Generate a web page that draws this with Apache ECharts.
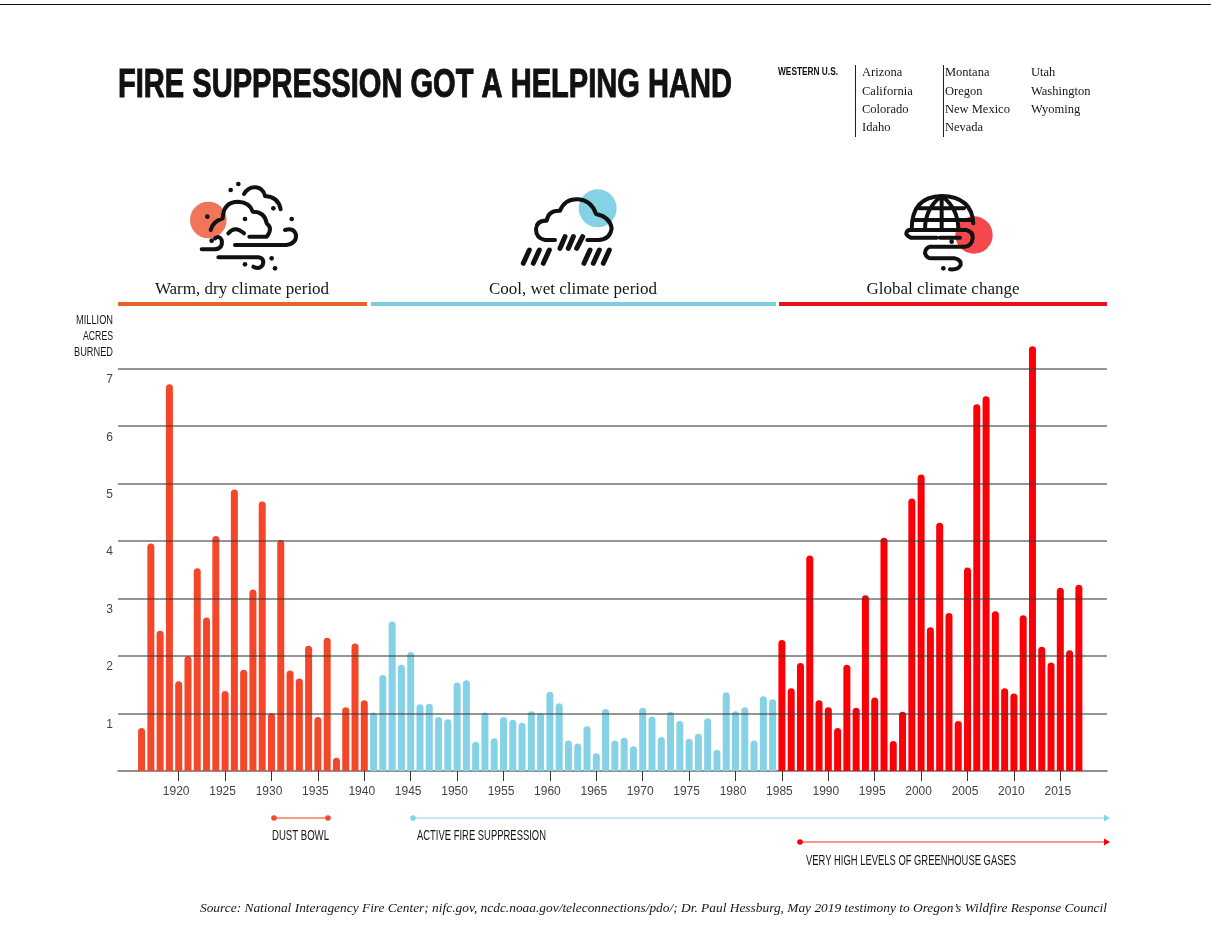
<!DOCTYPE html>
<html>
<head>
<meta charset="utf-8">
<title>Fire suppression got a helping hand</title>
<script src="https://cdn.jsdelivr.net/npm/echarts@6/dist/echarts.min.js"></script>
<style>
  html, body { margin: 0; padding: 0; background: #fff; }
  #chart { width: 1211px; height: 926px; }
</style>
</head>
<body>
<div id="chart"></div>
<script>
// million acres burned per year
var warmStart = 1916
var warmValues = [0.75, 3.96, 2.44, 6.73, 1.56, 2.0, 3.53, 2.67, 4.09, 1.39, 4.9, 1.76, 3.16, 4.69, 1.01, 4.02, 1.75, 1.61, 2.18, 0.94, 2.32, 0.23, 1.11, 2.22, 1.23]
var coolStart = 1941
var coolValues = [1.02, 1.67, 2.6, 1.85, 2.07, 1.16, 1.17, 0.94, 0.9, 1.54, 1.58, 0.51, 1.02, 0.57, 0.94, 0.89, 0.84, 1.04, 1.01, 1.38, 1.18, 0.53, 0.48, 0.78, 0.31, 1.08, 0.53, 0.58, 0.43, 1.1, 0.95, 0.59, 1.03, 0.87, 0.56, 0.65, 0.92, 0.37, 1.37, 1.04, 1.11, 0.53, 1.3, 1.25]
var changeStart = 1985
var changeValues = [2.28, 1.44, 1.88, 3.75, 1.23, 1.11, 0.75, 1.85, 1.1, 3.06, 1.28, 4.06, 0.52, 1.03, 4.74, 5.16, 2.5, 4.32, 2.75, 0.87, 3.54, 6.38, 6.52, 2.78, 1.44, 1.35, 2.71, 7.39, 2.16, 1.89, 3.19, 2.1, 3.24]
var tickYears = [1920, 1925, 1930, 1935, 1940, 1945, 1950, 1955, 1960, 1965, 1970, 1975, 1980, 1985, 1990, 1995, 2000, 2005, 2010, 2015]
var yTicks = [1, 2, 3, 4, 5, 6, 7]

var stateCols = [
  ['Arizona', 'California', 'Colorado', 'Idaho'],
  ['Montana', 'Oregon', 'New Mexico', 'Nevada'],
  ['Utah', 'Washington', 'Wyoming']
]

var SANS = '"Liberation Sans", Roboto, sans-serif'
var SERIF = '"Liberation Serif", serif'
var INK = '#14161a'
var WARM = '#f4472a'
var COOL = '#85d2e7'
var CHANGE = '#fb0006'

function toPoints(start, values) {
  return values.map(function (v, i) { return [start + i, v] })
}

function barSeries(name, start, values, color) {
  return {
    name: name,
    type: 'bar',
    data: toPoints(start, values),
    barWidth: 7,
    barGap: '-100%',
    itemStyle: { color: color, borderRadius: [3.5, 3.5, 0, 0] }
  }
}

// icon outlines, drawn in a 3x box and scaled down by their group
var icons = {
  warmIcon: 'M122 180 Q128 155 158 145 Q160 95 205 95 Q240 97 248 125 Q285 125 290 160 Q310 175 290 200 L238 200 ' +
    'M222 72 Q235 50 258 52 Q280 55 285 78 Q325 80 332 118 M175 190 Q195 165 222 190 ' +
    'M95 238 L135 238 Q160 235 155 210 Q148 195 135 205 ' +
    'M195 225 L350 225 Q380 220 378 195 Q372 172 345 180 ' +
    'M145 262 L265 262 Q285 265 278 285 Q268 300 250 290',
  coolIcon: 'M135 210 L105 210 Q78 205 78 178 Q80 150 110 152 Q115 120 150 122 Q165 85 205 88 Q245 92 258 132 Q300 140 305 175 Q300 210 265 210 L232 210',
  coolRain: 'M150 235 L165 200 M175 235 L190 200 M200 235 L218 200 ' +
    'M40 280 L58 240 M70 280 L88 240 M100 280 L118 240 ' +
    'M222 280 L240 240 M250 280 L268 240 M280 280 L298 240',
  changeIcon: 'M65 178 Q65 80 155 78 Q245 80 250 160 M155 78 L155 178 M155 78 Q105 115 105 178 M155 78 Q205 115 205 178 ' +
    'M88 115 L222 115 M70 150 L245 150 ' +
    'M140 203 L62 203 Q45 195 50 186 Q55 178 65 180 L228 180 Q250 185 248 205 Q245 228 225 230 L120 230 Q105 235 105 250 Q110 265 125 265 L195 265 Q215 270 212 285 Q205 300 180 298 ' +
    'M150 203 L210 203'
}
Object.keys(icons).forEach(function (k) {
  echarts.graphic.registerShape(k, echarts.graphic.extendPath(icons[k]))
})

function dots(list) {
  return list.map(function (p) {
    return { type: 'circle', shape: { cx: p[0], cy: p[1], r: 7 }, style: { fill: '#111' } }
  })
}

function stroke(name, width) {
  return { type: name, shape: {}, style: { fill: null, stroke: '#111', lineWidth: width, lineCap: 'round', lineJoin: 'round' } }
}

function icon(name, x, y, sun, sunColor, dotList, extra) {
  return {
    type: 'group',
    x: x, y: y, scaleX: 1 / 3, scaleY: 1 / 3,
    children: [
      { type: 'circle', shape: { cx: sun[0], cy: sun[1], r: sun[2] }, style: { fill: sunColor } },
      stroke(name, 12)
    ].concat(extra || []).concat(dots(dotList))
  }
}

function label(text, x, y, font, opts) {
  return {
    type: 'text', x: x, y: y,
    style: Object.assign({ text: text, font: font, fill: INK, textAlign: 'left', textVerticalAlign: 'middle' }, opts || {})
  }
}

// the picture's condensed face is not installed, so squeeze text to its measured width
var measureCtx = document.createElement('canvas').getContext('2d')
function narrow(text, x, y, font, width, opts) {
  measureCtx.font = font
  var el = label(text, x, y, font, opts)
  el.scaleX = width / measureCtx.measureText(text).width
  return el
}

function rect(x, y, w, h, color) {
  return { type: 'rect', shape: { x: x, y: y, width: w, height: h }, style: { fill: color } }
}

function span(x1, x2, y, color, lineColor, arrow) {
  var out = [
    { type: 'line', shape: { x1: x1, y1: y, x2: x2, y2: y }, style: { stroke: lineColor, lineWidth: 1.4 } },
    { type: 'circle', shape: { cx: x1, cy: y, r: 2.8 }, style: { fill: color } }
  ]
  if (arrow) {
    out.push({ type: 'polygon', shape: { points: [[x2 - 5, y - 3.5], [x2 + 1, y], [x2 - 5, y + 3.5]] }, style: { fill: color } })
  } else {
    out.push({ type: 'circle', shape: { cx: x2, cy: y, r: 2.8 }, style: { fill: color } })
  }
  return out
}

var furniture = [
  rect(0, 4, 1211, 1, '#111'),
  narrow('FIRE SUPPRESSION GOT A HELPING HAND', 118, 86, 'bold 41px ' + SANS, 614, { fill: '#111', stroke: '#111', lineWidth: 1 }),
  narrow('WESTERN U.S.', 778, 72, 'bold 11px ' + SANS, 60, { fill: '#111' }),
  rect(855, 65, 1, 72, '#222'),
  rect(943, 65, 1, 72, '#222'),

  icon('warmIcon', 170, 170, [115, 150, 55], '#f0755a', [[205, 42], [182, 60], [112, 140], [225, 147], [365, 147], [310, 115], [125, 212], [305, 265], [315, 295], [225, 283]]),
  icon('coolIcon', 510, 170, [263, 115, 57], COOL, [], [stroke('coolRain', 15)]),
  icon('changeIcon', 890, 170, [252, 195, 56], '#f4484c', [[185, 215], [160, 295]]),

  label('Warm, dry climate period', 242, 290, '17px ' + SERIF, { textAlign: 'center' }),
  label('Cool, wet climate period', 573, 290, '17px ' + SERIF, { textAlign: 'center' }),
  label('Global climate change', 943, 290, '17px ' + SERIF, { textAlign: 'center' }),
  rect(118, 302, 249, 4, '#e8622c'),
  rect(371, 302, 405, 4, '#7dcde3'),
  rect(779, 302, 328, 4, '#e8101a'),

  narrow('MILLION', 113, 321, '12.5px ' + SANS, 37, { textAlign: 'right' }),
  narrow('ACRES', 113, 337, '12.5px ' + SANS, 30, { textAlign: 'right' }),
  narrow('BURNED', 113, 353, '12.5px ' + SANS, 39, { textAlign: 'right' }),

  narrow('DUST BOWL', 272, 836, '14.5px ' + SANS, 57),
  narrow('ACTIVE FIRE SUPPRESSION', 417, 836, '14.5px ' + SANS, 129),
  narrow('VERY HIGH LEVELS OF GREENHOUSE GASES', 806, 861, '14.5px ' + SANS, 210),
  label('Source: National Interagency Fire Center; nifc.gov, ncdc.noaa.gov/teleconnections/pdo/; Dr. Paul Hessburg, May 2019 testimony to Oregon\u2019s Wildfire Response Council',
    1107, 908, 'italic 13.4px ' + SERIF, { textAlign: 'right' })
]
  .concat(span(274, 328, 818, WARM, '#f47a60', false))
  .concat(span(413, 1109, 818, COOL, '#b5e3ef', true))
  .concat(span(800, 1109, 842, CHANGE, '#fb7070', true))

var stateX = [862, 945, 1031]
var stateY = [73, 92, 110, 128]
stateCols.forEach(function (col, c) {
  col.forEach(function (name, r) {
    furniture.push(label(name, stateX[c], stateY[r], '12.5px ' + SERIF))
  })
})

var allSeries = [
  barSeries('Warm, dry climate period', warmStart, warmValues, WARM),
  barSeries('Cool, wet climate period', coolStart, coolValues, COOL),
  barSeries('Global climate change', changeStart, changeValues, CHANGE)
]
// grid lines run over the bars in the picture
allSeries[2].z = 3
allSeries[2].markLine = {
  silent: true,
  symbol: 'none',
  animation: false,
  z: 10,
  label: { show: false },
  lineStyle: { type: 'solid', color: 'rgba(60,60,60,0.72)', width: 1.5 },
  data: yTicks.map(function (v) { return { yAxis: v } })
}

var chart = echarts.init(document.getElementById('chart'), null, { renderer: 'canvas' })
chart.setOption({
  animation: false,
  backgroundColor: '#fff',
  grid: { left: 118, right: 104, top: 340, bottom: 155 },
  xAxis: {
    type: 'value',
    min: 1913.46,
    max: 2020.03,
    splitLine: { show: false },
    axisLine: { show: true, onZero: true, lineStyle: { color: '#6c6c6c', width: 1.5 } },
    axisTick: { show: true, length: 10, customValues: tickYears, lineStyle: { color: '#333', width: 1 } },
    axisLabel: {
      margin: 15,
      customValues: tickYears,
      formatter: function (v) { return String(v) },
      font: '12.5px Roboto',
      color: '#444',
      padding: [0, 5, 0, 0]
    }
  },
  yAxis: {
    type: 'value',
    min: 0,
    max: 7.5,
    interval: 1,
    axisLine: { show: false },
    axisTick: { show: false },
    splitLine: { show: false },
    axisLabel: {
      margin: 5,
      showMinLabel: false,
      showMaxLabel: false,
      font: '13px Roboto',
      color: '#444',
      verticalAlign: 'top',
      padding: [5, 0, 0, 0],
      formatter: function (v) { return yTicks.indexOf(v) >= 0 ? String(v) : '' }
    }
  },
  series: allSeries,
  graphic: { elements: furniture }
})
</script>
</body>
</html>
